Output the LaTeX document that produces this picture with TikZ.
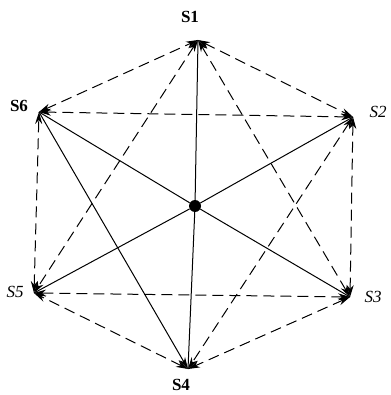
\documentclass[tikz,border=0pt]{standalone}
\usepackage{fontspec}
\setmainfont{Liberation Serif}
\usetikzlibrary{arrows.meta,positioning}

\begin{document}
\begin{tikzpicture}[x=1pt,y=-1pt,>={Stealth[length=12pt,width=7pt]},
 every node/.style={font=\fontsize{17}{17}\selectfont},
 lbl/.style={inner sep=0pt},
 link/.style={<->,dash pattern=on 11pt off 6pt,line width=1pt},
 spoke/.style={line width=1pt}]
\useasboundingbox (0,0) rectangle (390,395);
% stations
\coordinate (s1) at (198,40);
\coordinate (s2) at (353,117);
\coordinate (s3) at (350,297);
\coordinate (s4) at (188,369);
\coordinate (s5) at (34,293);
\coordinate (s6) at (39,112);
\node[circle,fill,inner sep=0pt,minimum size=12pt] (hub) at (195,206) {};
\node[lbl] (l1) at (190,17) {\bfseries S1};
\node[lbl] (l2) at (378,112) {\itshape S2};
\node[lbl] (l3) at (373,297) {\itshape S3};
\node[lbl] (l4) at (181,385) {\bfseries S4};
\node[lbl] (l5) at (15,292) {\itshape S5};
\node[lbl] (l6) at (19,106) {\bfseries S6};
% solid lines through the hub
\foreach \s in {s1,s2,s3,s4,s5,s6}
 \draw[spoke] (hub) -- (\s);
\draw[spoke,->] (s6) -- (s4);
% dashed links
\foreach \a/\b in {s1/s2,s2/s3,s3/s4,s4/s5,s5/s6,s6/s1,s1/s3,s1/s5,s2/s4,s2/s6,s3/s5}
 \draw[link] (\a) -- (\b);
\end{tikzpicture}
\end{document}
